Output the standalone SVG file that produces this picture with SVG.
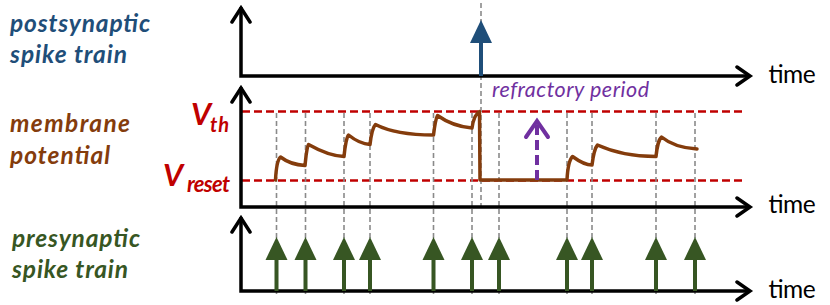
<svg xmlns="http://www.w3.org/2000/svg" width="830" height="305" viewBox="0 0 830 305">
<defs>
<style>
.lbl{font-family:Lato,"Liberation Sans",sans-serif;font-weight:bold;font-style:italic;font-size:24.5px}
.blue{fill:#1f4e79}
.brown{fill:#843c0c}
.green{fill:#375623}
.red{fill:#c00000;font-family:Lato,"Liberation Sans",sans-serif;font-weight:bold;font-style:italic}
.time{font-family:Lato,"Liberation Sans",sans-serif;font-size:24.5px;fill:#000}
.axis{fill:none;stroke:#000;stroke-width:3.5;stroke-linecap:square;stroke-linejoin:miter}
.head{fill:none;stroke:#000;stroke-width:3.5;stroke-linecap:round;stroke-linejoin:miter}
.thr{stroke:#c00000;stroke-width:2.5;stroke-dasharray:8 4;fill:none}
.guide{stroke:#8a8a8a;stroke-width:1.6;stroke-dasharray:5 3;fill:none}
.trace{fill:none;stroke:#843c0c;stroke-width:3.5;stroke-linejoin:round;stroke-linecap:round}
.pre{fill:#375623}
</style>
<g id="pre-arrow">
<rect x="-2" y="23" width="4" height="31"/>
<polygon points="0,0 11,23 -11,23"/>
</g>
</defs>
<rect width="830" height="305" fill="#fff"/>

<g id="label-post">
<text class="lbl blue" x="10" y="32" textLength="140">postsynaptic</text>
<text class="lbl blue" x="10" y="63" textLength="117">spike train</text>
</g>
<g id="label-membrane">
<text class="lbl brown" x="10" y="132" textLength="120">membrane</text>
<text class="lbl brown" x="10" y="164" textLength="100">potential</text>
</g>
<g id="label-pre">
<text class="lbl green" x="12" y="247" textLength="128">presynaptic</text>
<text class="lbl green" x="12" y="278" textLength="116">spike train</text>
</g>
<g id="label-vth">
<text class="red" x="191" y="125" font-size="31">V</text>
<text class="red" x="210" y="132" font-size="20" textLength="19">th</text>
</g>
<g id="label-vreset">
<text class="red" x="163" y="186" font-size="31">V</text>
<text class="red" x="187" y="192" font-size="22" textLength="43">reset</text>
</g>

<g id="thresholds">
<line class="thr" x1="242" y1="111.5" x2="742" y2="111.5"/>
<line class="thr" x1="242" y1="180.5" x2="742" y2="180.5"/>
</g>

<g id="connectors">
<line class="guide" x1="481" y1="3" x2="481" y2="207"/>
<line class="guide" x1="276.5" y1="113" x2="276.5" y2="296"/>
<line class="guide" x1="305.5" y1="113" x2="305.5" y2="296"/>
<line class="guide" x1="344" y1="113" x2="344" y2="296"/>
<line class="guide" x1="370" y1="113" x2="370" y2="296"/>
<line class="guide" x1="433.5" y1="113" x2="433.5" y2="296"/>
<line class="guide" x1="472" y1="113" x2="472" y2="296"/>
<line class="guide" x1="499" y1="113" x2="499" y2="296"/>
<line class="guide" x1="567" y1="113" x2="567" y2="296"/>
<line class="guide" x1="592" y1="113" x2="592" y2="296"/>
<line class="guide" x1="656" y1="113" x2="656" y2="296"/>
<line class="guide" x1="695" y1="113" x2="695" y2="296"/>
</g>

<g id="axis-post">
<path class="axis" d="M241,9 V76 H748"/>
<path class="head" d="M232,22 L241,8 L250,22 M737,67 L750,76 L737,85"/>
<text class="time" x="768" y="83" textLength="47">time</text>
</g>
<g id="axis-membrane">
<path class="axis" d="M241,89 V207 H748"/>
<path class="head" d="M232,102 L241,88 L250,102 M737,198 L750,207 L737,216"/>
<text class="time" x="768" y="213" textLength="47">time</text>
</g>
<g id="axis-pre">
<path class="axis" d="M241,219 V291 H748"/>
<path class="head" d="M232,232 L241,218 L250,232 M737,282 L750,291 L737,300"/>
<text class="time" x="768" y="298" textLength="47">time</text>
</g>

<g id="post-spike" fill="#1f4e79">
<rect x="479" y="42" width="4" height="34"/>
<polygon points="481,20 492,43 470,43"/>
</g>

<g id="pre-spikes" class="pre">
<use href="#pre-arrow" x="276.5" y="237"/>
<use href="#pre-arrow" x="305.5" y="237"/>
<use href="#pre-arrow" x="344" y="237"/>
<use href="#pre-arrow" x="370" y="237"/>
<use href="#pre-arrow" x="433.5" y="237"/>
<use href="#pre-arrow" x="472" y="237"/>
<use href="#pre-arrow" x="499" y="237"/>
<use href="#pre-arrow" x="567" y="237"/>
<use href="#pre-arrow" x="592" y="237"/>
<use href="#pre-arrow" x="656" y="237"/>
<use href="#pre-arrow" x="695" y="237"/>
</g>

<g id="membrane-trace">
<path class="trace" d="M275.5,180 C276,170 277,160 280.5,157 C287,162 295,165 305,165.5 C306,157 306.5,148 308.5,144.5 C320,151 332,156 344,156.5 C345,147 346,138 348.5,135 C356,141 362,144 370,144.5 C371,136 372,128 375.5,124.5 C392,133 412,135 433.5,135 C434.5,127 435.5,119 437.5,115.5 C448,123 460,127 472,128 C473,121 475,114 479.5,111.5 L480,180 L567,180 C567.5,170 569,160 572.5,156.5 C580,162 586,165 592,165 C593,157 594,149 597.5,145 C615,153 635,156.5 656,156.5 C657,148 658,140 661.5,137 C670,144 680,148 697,149"/>
</g>

<g id="refractory">
<line x1="537" y1="180" x2="537" y2="124" stroke="#7030a0" stroke-width="4" stroke-dasharray="10 5"/>
<path d="M526,137 L537,121 L548,137" fill="none" stroke="#7030a0" stroke-width="4" stroke-linecap="round"/>
<text x="492" y="97" font-family="Lato,'Liberation Sans',sans-serif" font-style="italic" font-size="21.5" fill="#7030a0" textLength="157">refractory period</text>
</g>
</svg>
